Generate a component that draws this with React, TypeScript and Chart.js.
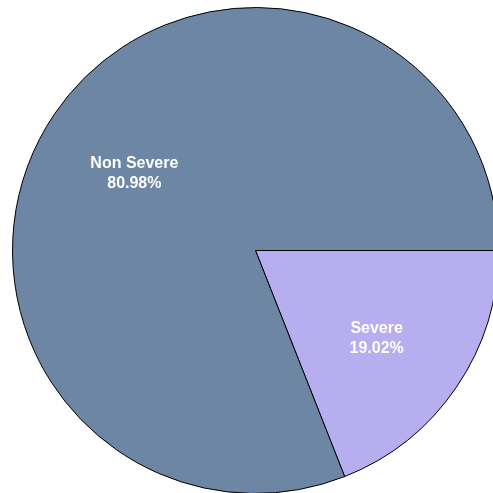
import React, { useEffect, useRef } from "react";
import { Chart, registerables } from "chart.js";

Chart.register(...registerables);

const categories = ["Severe", "Non Severe"];
const values = [19.02, 80.98];
const colors = ["#b7aef0", "#6c86a4"];

const labelPlugin = {
  id: "sliceLabels",
  afterDatasetsDraw(chart: any) {
    const ctx = chart.ctx;
    const meta = chart.getDatasetMeta(0);
    const total = values.reduce((a, b) => a + b, 0);
    ctx.save();
    ctx.fillStyle = "#ffffff";
    ctx.font = "bold 16px 'Liberation Sans', Arial, sans-serif";
    ctx.textAlign = "center";
    ctx.textBaseline = "middle";
    meta.data.forEach((arc: any, i: number) => {
      const p = arc.getProps(["x", "y", "startAngle", "endAngle", "outerRadius"], true);
      const mid = (p.startAngle + p.endAngle) / 2;
      const r = p.outerRadius * 0.603;
      const cx = p.x + Math.cos(mid) * r;
      const cy = p.y + Math.sin(mid) * r + 6;
      const pct = ((values[i] / total) * 100).toFixed(2) + "%";
      ctx.fillText(categories[i], cx, cy - 10);
      ctx.fillText(pct, cx, cy + 10);
    });
    ctx.restore();
  },
};

export default function App() {
  const ref = useRef<HTMLCanvasElement>(null);
  useEffect(() => {
    if (!ref.current) return;
    const chart = new Chart(ref.current, {
      type: "pie",
      data: {
        labels: categories,
        datasets: [
          {
            data: values,
            backgroundColor: colors,
            borderColor: "#000000",
            borderWidth: 1,
          },
        ],
      },
      options: {
        animation: false,
        responsive: true,
        maintainAspectRatio: false,
        rotation: 90,
        layout: { padding: 0 },
        plugins: {
          legend: { display: false },
          tooltip: { enabled: false },
        },
      },
      plugins: [labelPlugin],
    });
    return () => chart.destroy();
  }, []);
  return (
    <div style={{ position: "fixed", left: 0, top: 0, width: 493, height: 493, overflow: "hidden", background: "#fff" }}>
      <div style={{ position: "absolute", left: 0, top: 7, width: 511, height: 487 }}>
        <canvas ref={ref} />
      </div>
    </div>
  );
}
